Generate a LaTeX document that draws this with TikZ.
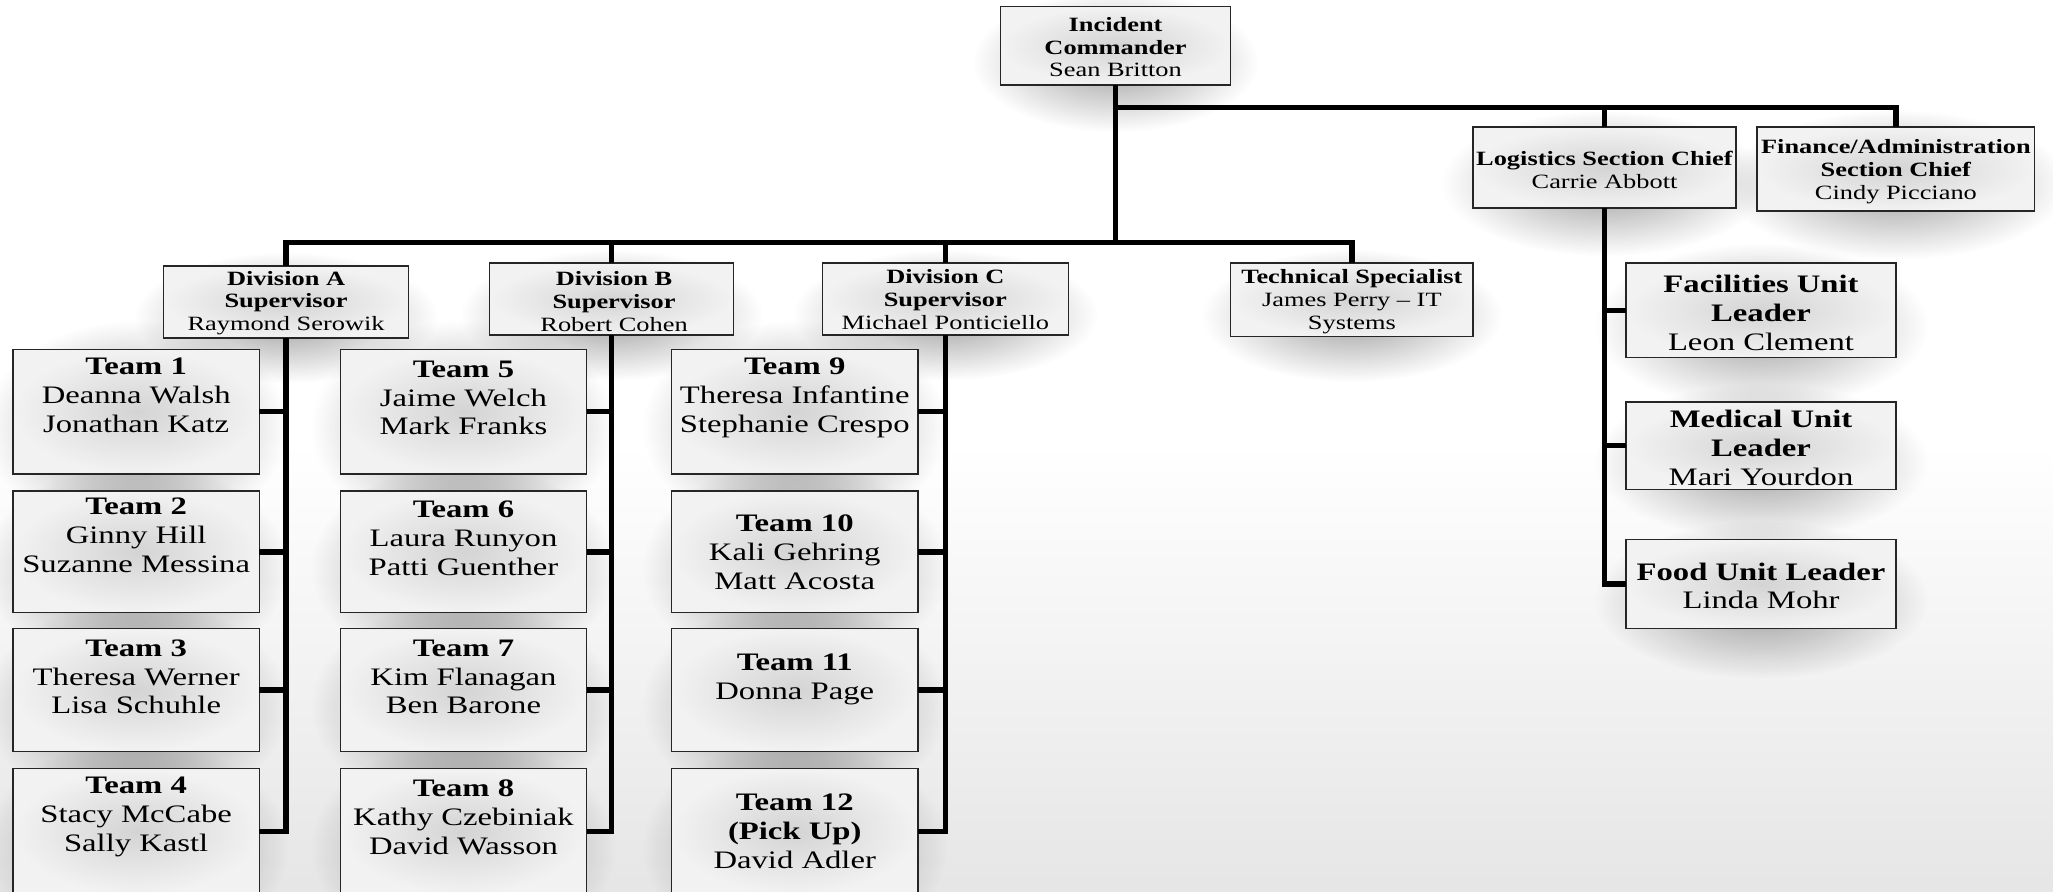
\documentclass[tikz,border=0pt]{standalone}
\usepackage{fontspec}
\setmainfont{Liberation Serif}[FakeStretch=1.3]
\usetikzlibrary{fadings}
\tikzfading[name=softblob, inner color=transparent!0, outer color=transparent!100]
\tikzset{
  box/.style={draw=black!85, line width=1.1pt, inner sep=0pt, outer sep=0pt,
    inner color=black!17, outer color=black!5},
  shadowblob/.style={fill=black, opacity=0.38, path fading=softblob},
  conn/.style={line width=4pt, black, line join=miter},
  stxt/.style={inner sep=0pt, align=center, font=\fontsize{15.5}{17.5}\selectfont},
  btxt/.style={inner sep=0pt, align=center, font=\fontsize{19.2}{22}\selectfont},
}
\def\boxlist{ic/852/35/176/60, log/1225.5/128/201/62, fin/1448/129/212/64,
  divA/218.5/230.5/187/55, divB/467/228.5/186/55, divC/722/228.5/188/55, tech/1032.5/229/185/56,
  t1/104/314.5/188/95, t2/104/421.5/188/93, t3/104/527/188/94, t4/104/635/188/96,
  t5/354/314.5/188/95, t6/354/421.5/188/93, t7/354/527/188/94, t8/354/635/188/96,
  t9/607/314.5/188/95, t10/607/421.5/188/93, t11/607/527/188/94, t12/607/635/188/96,
  fac/1345/237/206/72, med/1345/340.5/206/67, food/1345/446/206/68}
\begin{document}
\begin{tikzpicture}[x=1pt, y=-1pt]
\useasboundingbox (0,0) rectangle (1568,681);
% background
\fill[white] (0,0) rectangle (1568,340);
\shade[top color=white, bottom color=black!10] (0,339) rectangle (1568,681);

% soft shadows
\foreach \n/\x/\y/\w/\h in \boxlist {
  \fill[shadowblob] (\x,\y+12) ellipse [x radius=\w*0.62, y radius=\h*0.8+6];
}
% boxes
\foreach \n/\x/\y/\w/\h in \boxlist {
  \node[box, minimum width=\w pt, minimum height=\h pt] (\n) at (\x,\y) {};
}

% texts
\node[stxt] (ic-t) at (852,36) {\textbf{Incident}\\\textbf{Commander}\\Sean Britton};
\node[stxt] (log-t) at (1225.5,130) {\textbf{Logistics Section Chief}\\Carrie Abbott};
\node[stxt] (fin-t) at (1448,131) {\textbf{Finance/Administration}\\\textbf{Section Chief}\\Cindy Picciano};
\node[stxt] (divA-t) at (218.5,231.5) {\textbf{Division A}\\\textbf{Supervisor}\\Raymond Serowik};
\node[stxt] (divB-t) at (469,230) {\textbf{Division B}\\\textbf{Supervisor}\\Robert Cohen};
\node[stxt] (divC-t) at (722,229) {\textbf{Division C}\\\textbf{Supervisor}\\Michael Ponticiello};
\node[stxt] (tech-t) at (1032.5,230.5) {\textbf{Technical Specialist}\\James Perry – IT\\Systems};

\node[btxt] (t1-t) at (104,302) {\textbf{Team 1}\\Deanna Walsh\\Jonathan Katz};
\node[btxt] (t2-t) at (104,409) {\textbf{Team 2}\\Ginny Hill\\Suzanne Messina};
\node[btxt] (t3-t) at (104,517) {\textbf{Team 3}\\Theresa Werner\\Lisa Schuhle};
\node[btxt] (t4-t) at (104,624) {\textbf{Team 4}\\Stacy McCabe\\Sally Kastl};
\node[btxt] (t5-t) at (354,304) {\textbf{Team 5}\\Jaime Welch\\Mark Franks};
\node[btxt] (t6-t) at (354,411) {\textbf{Team 6}\\Laura Runyon\\Patti Guenther};
\node[btxt] (t7-t) at (354,517) {\textbf{Team 7}\\Kim Flanagan\\Ben Barone};
\node[btxt] (t8-t) at (354,624) {\textbf{Team 8}\\Kathy Czebiniak\\David Wasson};
\node[btxt] (t9-t) at (607,304) {\textbf{Team 9}\\Theresa Infantine\\Stephanie Crespo};
\node[btxt] (t10-t) at (607,422) {\textbf{Team 10}\\Kali Gehring\\Matt Acosta};
\node[btxt] (t11-t) at (607,519) {\textbf{Team 11}\\Donna Page};
\node[btxt] (t12-t) at (607,635) {\textbf{Team 12}\\\textbf{(Pick Up)}\\David Adler};

\node[btxt] (fac-t) at (1345,239) {\textbf{Facilities Unit}\\\textbf{Leader}\\Leon Clement};
\node[btxt] (med-t) at (1345,342) {\textbf{Medical Unit}\\\textbf{Leader}\\Mari Yourdon};
\node[btxt] (food-t) at (1345,447.5) {\textbf{Food Unit Leader}\\Linda Mohr};

% connectors
\coordinate (b1) at (852,82);
\coordinate (b2) at (852,185);
\draw[conn] (ic.south) -- (b2);
\draw[conn] (b1) -| (fin.north);
\draw[conn] (log.north |- b1) -- (log.north);
\draw[conn] (divA.north) |- (tech.north |- b2) -- (tech.north);
\draw[conn] (divB.north |- b2) -- (divB.north);
\draw[conn] (divC.north |- b2) -- (divC.north);

\draw[conn] (divA.south) |- (t4.east);
\draw[conn] (t1.east) -- (t1.east -| divA.south);
\draw[conn] (t2.east) -- (t2.east -| divA.south);
\draw[conn] (t3.east) -- (t3.east -| divA.south);

\draw[conn] (divB.south) |- (t8.east);
\draw[conn] (t5.east) -- (t5.east -| divB.south);
\draw[conn] (t6.east) -- (t6.east -| divB.south);
\draw[conn] (t7.east) -- (t7.east -| divB.south);

\draw[conn] (divC.south) |- (t12.east);
\draw[conn] (t9.east) -- (t9.east -| divC.south);
\draw[conn] (t10.east) -- (t10.east -| divC.south);
\draw[conn] (t11.east) -- (t11.east -| divC.south);

\draw[conn] (log.south) |- (food.west);
\draw[conn] (fac.west) -- (fac.west -| log.south);
\draw[conn] (med.west) -- (med.west -| log.south);
\end{tikzpicture}
\end{document}
